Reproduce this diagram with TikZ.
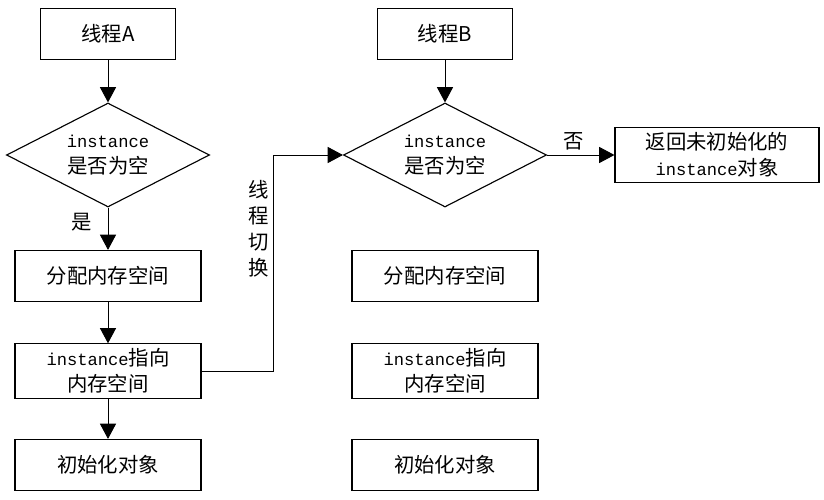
\documentclass[tikz,border=0pt]{standalone}
\usepackage{fontspec}
\setmainfont{Noto Sans CJK SC}
\newfontfamily\codefont{Liberation Mono}[Scale=0.84]
\usetikzlibrary{shapes.geometric, arrows.meta}
\newcommand{\inst}{{\codefont instance}}
\tikzstyle{thread} = [rectangle, minimum width=3.375cm, minimum height=1.275cm, text centered, draw=black, line width=0.8pt]
\tikzstyle{decision} = [diamond, aspect=1.95, minimum width=5.075cm, minimum height=2.6cm, inner sep=0pt, align=center, draw=black, line width=0.8pt]
\tikzstyle{process} = [rectangle, minimum width=4.65cm, minimum height=1.275cm, align=center, draw=black, line width=0.8pt]
\tikzstyle{result} = [process, minimum width=5.1cm]
\tikzstyle{arrow} = [line width=0.7pt, -{Triangle[length=0.38cm, width=0.4cm]}]

\begin{document}
\begin{tikzpicture}[node distance=3.025cm, font=\fontsize{14.5pt}{18.5pt}\selectfont]
\useasboundingbox (0,0) rectangle (20.6,-12.5);

\node (threadA) [thread] at (2.7,-0.85) {线程A};
\node (checkA) [decision, below of=threadA] {\inst\\是否为空};
\node (allocA) [process, below of=checkA] {分配内存空间};
\node (pointA) [process, below of=allocA, yshift=0.65cm] {\inst 指向\\内存空间};
\node (initA) [process, below of=pointA, yshift=0.675cm] {初始化对象};

\node (threadB) [thread, right of=threadA, xshift=5.4cm] {线程B};
\node (checkB) [decision, below of=threadB] {\inst\\是否为空};
\node (allocB) [process, below of=checkB] {分配内存空间};
\node (pointB) [process, below of=allocB, yshift=0.65cm] {\inst 指向\\内存空间};
\node (initB) [process, below of=pointB, yshift=0.675cm] {初始化对象};
\node (ret) [result, right of=checkB, xshift=3.775cm] {返回未初始化的\\\inst 对象};

\draw [arrow] (threadA) -- (checkA);
\draw [arrow] (checkA) -- node[anchor=east, pos=0.34, xshift=-0.28cm] {是} (allocA);
\draw [arrow] (allocA) -- (pointA);
\draw [arrow] (pointA) -- (initA);

% switch to thread B
\draw [arrow] (pointA.east) -- ++(1.8,0) |- node[anchor=east, pos=0.33, align=center] {线\\程\\切\\换} (checkB.west);

\draw [arrow] (threadB) -- (checkB);
\draw [arrow] (checkB) -- node[anchor=south, pos=0.4] {否} (ret);

\end{tikzpicture}
\end{document}
